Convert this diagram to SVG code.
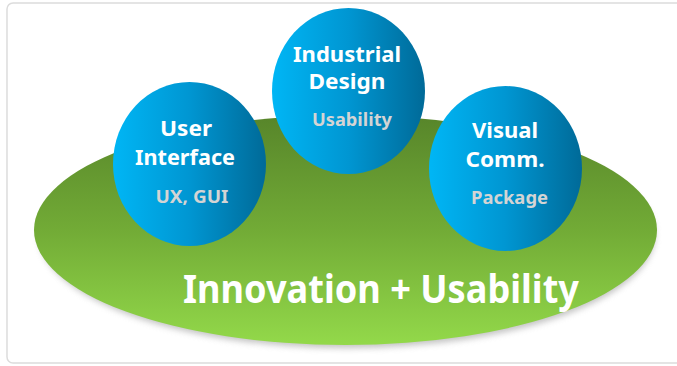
<svg xmlns="http://www.w3.org/2000/svg" width="677" height="366" viewBox="0 0 677 366">
<defs>
<linearGradient id="green" x1="0" y1="0" x2="0" y2="1">
<stop offset="0" stop-color="#57852a"/>
<stop offset="0.5" stop-color="#72ab36"/>
<stop offset="1" stop-color="#93d94a"/>
</linearGradient>
<linearGradient id="blue" x1="0" y1="0" x2="1" y2="0">
<stop offset="0" stop-color="#00b6f5"/>
<stop offset="0.5" stop-color="#0096d2"/>
<stop offset="1" stop-color="#006a98"/>
</linearGradient>
<filter id="shadow" x="-10%" y="-10%" width="120%" height="130%">
<feGaussianBlur stdDeviation="3"/>
</filter>
<style>
.t{font-family:"Noto Sans","Open Sans",sans-serif;font-weight:bold;fill:#ffffff;text-anchor:middle}
.m{font-size:22px}
.s{font-size:18px;fill:#d4d4d4}
.b{font-size:39px}
</style>
</defs>
<rect x="7" y="3" width="690" height="360" rx="6" fill="#ffffff" stroke="#dcdcdc" stroke-width="1.5"/>
<g id="base">
<ellipse cx="347" cy="235" rx="308" ry="113" fill="#9a9a9a" opacity="0.6" filter="url(#shadow)"/>
<ellipse cx="345.5" cy="230" rx="311.5" ry="115" fill="url(#green)"/>
<text class="t b" x="381" y="303" textLength="396" lengthAdjust="spacingAndGlyphs">Innovation + Usability</text>
</g>
<g id="connectors"></g>
<g id="ui">
<ellipse cx="189.5" cy="164" rx="76.5" ry="82" fill="url(#blue)"/>
<text class="t m" x="186" y="136" textLength="52" lengthAdjust="spacingAndGlyphs">User</text>
<text class="t m" x="185" y="165" textLength="100" lengthAdjust="spacingAndGlyphs">Interface</text>
<text class="t s" x="192" y="203" textLength="73" lengthAdjust="spacingAndGlyphs">UX, GUI</text>
</g>
<g id="id">
<ellipse cx="348.5" cy="91" rx="76.5" ry="83" fill="url(#blue)"/>
<text class="t m" x="347" y="62" textLength="108" lengthAdjust="spacingAndGlyphs">Industrial</text>
<text class="t m" x="347" y="89" textLength="77" lengthAdjust="spacingAndGlyphs">Design</text>
<text class="t s" x="352" y="126" textLength="80" lengthAdjust="spacingAndGlyphs">Usability</text>
</g>
<g id="vc">
<ellipse cx="505.5" cy="168.5" rx="76.5" ry="82.5" fill="url(#blue)"/>
<text class="t m" x="505" y="138" textLength="66" lengthAdjust="spacingAndGlyphs">Visual</text>
<text class="t m" x="505" y="167" textLength="79" lengthAdjust="spacingAndGlyphs">Comm.</text>
<text class="t s" x="509.5" y="204" textLength="77" lengthAdjust="spacingAndGlyphs">Package</text>
</g>
</svg>
